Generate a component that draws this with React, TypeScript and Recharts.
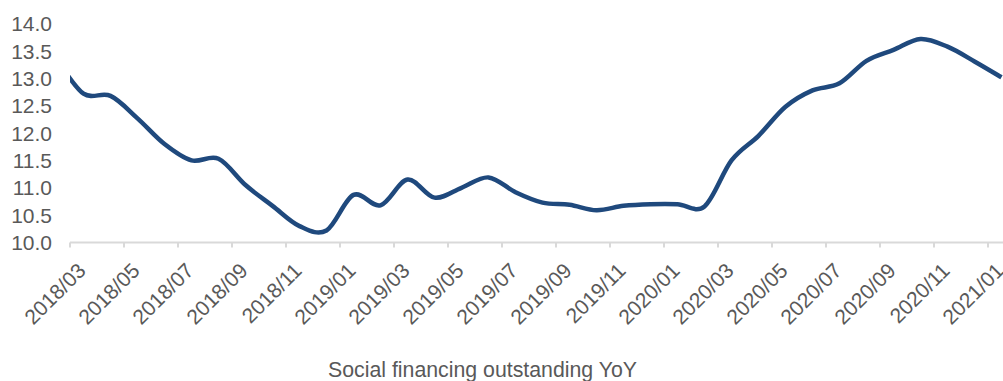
import { LineChart, Line, XAxis, YAxis } from 'recharts';

// monthly observations; the first one (2018/02) sits just left of the plot and is clipped
const months = [
  '2018/02', '2018/03', '2018/04', '2018/05', '2018/06', '2018/07', '2018/08', '2018/09',
  '2018/10', '2018/11', '2018/12', '2019/01', '2019/02', '2019/03', '2019/04', '2019/05',
  '2019/06', '2019/07', '2019/08', '2019/09', '2019/10', '2019/11', '2019/12', '2020/01',
  '2020/02', '2020/03', '2020/04', '2020/05', '2020/06', '2020/07', '2020/08', '2020/09',
  '2020/10', '2020/11', '2020/12', '2021/01',
];

const yoy = [
  13.35, 12.72, 12.68, 12.27, 11.8, 11.5, 11.53, 11.05,
  10.67, 10.3, 10.22, 10.87, 10.68, 11.15, 10.82, 11.0,
  11.19, 10.92, 10.73, 10.69, 10.59, 10.67, 10.7, 10.7,
  10.66, 11.5, 11.95, 12.48, 12.78, 12.91, 13.32, 13.52,
  13.72, 13.58, 13.31, 13.02,
];

const yTicks = [10, 10.5, 11, 11.5, 12, 12.5, 13, 13.5, 14];

const seriesName = 'Social financing outstanding YoY';

const textColor = '#595959';
const gridColor = '#d9d9d9';

// categories sit between the tick marks, so each point is half a month right of its boundary
const data = months.map((m, i) => ({ month: m, pos: i - 0.5, value: yoy[i] }));
const xTicks = months.slice(1).map((_, i) => i).filter((i) => i % 2 === 0);

// Excel-style smoothing (uniform Catmull-Rom as cubic beziers)
const smoothCurve = (context: any) => {
  let pts: [number, number][] = [];
  return {
    areaStart() {},
    areaEnd() {},
    lineStart() {
      pts = [];
    },
    lineEnd() {
      if (!pts.length) return;
      context.moveTo(pts[0][0], pts[0][1]);
      for (let i = 0; i < pts.length - 1; i++) {
        const p0 = pts[i - 1] || pts[i];
        const p1 = pts[i];
        const p2 = pts[i + 1];
        const p3 = pts[i + 2] || p2;
        context.bezierCurveTo(
          p1[0] + (p2[0] - p0[0]) / 6,
          p1[1] + (p2[1] - p0[1]) / 6,
          p2[0] - (p3[0] - p1[0]) / 6,
          p2[1] - (p3[1] - p1[1]) / 6,
          p2[0],
          p2[1],
        );
      }
    },
    point(x: number, y: number) {
      pts.push([+x, +y]);
    },
  };
};

const MonthTick = (props: any) => {
  const { x, y, payload } = props;
  const ax = x + 17;
  return (
    <text
      x={ax}
      y={y}
      textAnchor="end"
      fill={textColor}
      fontSize={21}
      transform={`rotate(-45, ${ax}, ${y})`}
    >
      {months[payload.value + 1]}
    </text>
  );
};

const App = () => {
  return (
    <div
      style={{
        position: 'absolute',
        left: 0,
        top: 0,
        width: 1003,
        height: 381,
        overflow: 'hidden',
        background: '#fff',
        fontFamily: '"Liberation Sans", Arial, sans-serif',
      }}
    >
      <LineChart
        width={1015}
        height={381}
        data={data}
        margin={{ top: 23.7, right: 0, left: 0, bottom: 38.5 }}
      >
        <XAxis
          type="number"
          dataKey="pos"
          domain={[0, 35]}
          ticks={xTicks}
          interval={0}
          allowDataOverflow
          height={100}
          tickSize={5}
          tickMargin={24.5}
          axisLine={{ stroke: gridColor, strokeWidth: 2 }}
          tickLine={{ stroke: gridColor, strokeWidth: 2 }}
          tick={<MonthTick />}
        />
        <YAxis
          type="number"
          domain={[10, 14]}
          ticks={yTicks}
          interval={0}
          width={70}
          axisLine={false}
          tickLine={false}
          tickSize={0}
          tickMargin={18}
          tick={{ fill: textColor, fontSize: 21 }}
          tickFormatter={(v: number) => v.toFixed(1)}
        />
        <Line
          type={smoothCurve as any}
          dataKey="value"
          name={seriesName}
          stroke="#1F497D"
          strokeWidth={4.5}
          dot={false}
          activeDot={false}
          isAnimationActive={false}
        />
      </LineChart>
      <div
        style={{
          position: 'absolute',
          left: 282.5,
          top: 358,
          width: 400,
          textAlign: 'center',
          fontSize: 21.3,
          lineHeight: '24px',
          color: textColor,
          whiteSpace: 'nowrap',
        }}
      >
        {seriesName}
      </div>
    </div>
  );
};

export default App;
